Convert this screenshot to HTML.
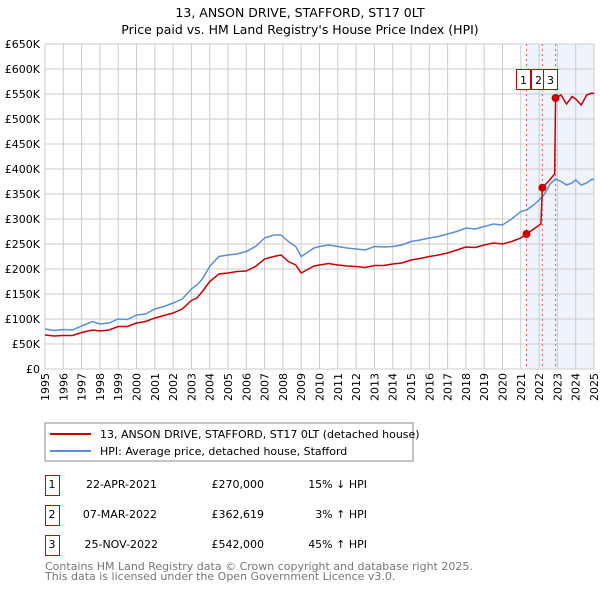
<!DOCTYPE html>
<html><head><meta charset="utf-8"><style>
body{margin:0;width:600px;height:590px;background:#fff;font-family:"Liberation Sans","DejaVu Sans",sans-serif;overflow:hidden}
svg text{font-family:"DejaVu Sans","Liberation Sans",sans-serif}
</style></head><body>
<svg id="chart" width="600" height="590">
<text x="300" y="17" text-anchor="middle" font-size="12.5">13, ANSON DRIVE, STAFFORD, ST17 0LT</text>
<text x="300" y="34" text-anchor="middle" font-size="12.5">Price paid vs. HM Land Registry's House Price Index (HPI)</text>
<g id="grid"></g><g id="series"></g><g id="axes"></g>
<rect x="45" y="423" width="368" height="38" fill="none" stroke="#888"/>
<line x1="50" y1="434" x2="91" y2="434" stroke="#cc0000" stroke-width="2"/>
<text x="100" y="438" font-size="11">13, ANSON DRIVE, STAFFORD, ST17 0LT (detached house)</text>
<line x1="50" y1="451" x2="91" y2="451" stroke="#5b8fd6" stroke-width="2"/>
<text x="100" y="455" font-size="11">HPI: Average price, detached house, Stafford</text>
<g font-size="11">
<rect x="45.5" y="475.5" width="14" height="20" fill="none" stroke="#cc0000"/><text x="52" y="488" text-anchor="middle">1</text>
<text x="157" y="488" text-anchor="end">22-APR-2021</text><text x="264" y="488" text-anchor="end">£270,000</text><text x="367" y="488" text-anchor="end">15% ↓ HPI</text>
<rect x="45.5" y="505.5" width="14" height="20" fill="none" stroke="#cc0000"/><text x="52" y="518" text-anchor="middle">2</text>
<text x="157" y="518" text-anchor="end">07-MAR-2022</text><text x="264" y="518" text-anchor="end">£362,619</text><text x="367" y="518" text-anchor="end">3% ↑ HPI</text>
<rect x="45.5" y="535.5" width="14" height="20" fill="none" stroke="#cc0000"/><text x="52" y="548" text-anchor="middle">3</text>
<text x="158" y="548" text-anchor="end">25-NOV-2022</text><text x="264" y="548" text-anchor="end">£542,000</text><text x="367" y="548" text-anchor="end">45% ↑ HPI</text>
</g>
<text x="45" y="570" font-size="11" fill="#777">Contains HM Land Registry data © Crown copyright and database right 2025.</text>
<text x="45" y="580" font-size="11" fill="#777">This data is licensed under the Open Government Licence v3.0.</text>
</svg>
<script>
const years=[1995,1996,1997,1998,1999,2000,2001,2002,2003,2004,2005,2006,2007,2008,2009,2010,2011,2012,2013,2014,2015,2016,2017,2018,2019,2020,2021,2022,2023,2024,2025];
const yTicks=[0,50000,100000,150000,200000,250000,300000,350000,400000,450000,500000,550000,600000,650000];
const yTickLabels=["£0","£50K","£100K","£150K","£200K","£250K","£300K","£350K","£400K","£450K","£500K","£550K","£600K","£650K"];
const hpiT=[1995,1995.5,1996,1996.5,1997,1997.6,1998,1998.5,1999,1999.5,2000,2000.5,2001,2001.5,2002,2002.5,2003,2003.3,2003.6,2004,2004.5,2005,2005.5,2006,2006.5,2007,2007.5,2007.9,2008.3,2008.7,2009,2009.3,2009.7,2010,2010.5,2011,2011.5,2012,2012.5,2013,2013.5,2014,2014.5,2015,2015.5,2016,2016.5,2017,2017.5,2018,2018.5,2019,2019.5,2020,2020.5,2021,2021.3,2021.7,2022,2022.3,2022.6,2022.9,2023.2,2023.5,2023.8,2024,2024.3,2024.6,2024.9,2025];
const hpiV=[80000,77000,79000,78000,86000,95000,90000,92000,100000,99000,108000,110000,120000,125000,132000,140000,160000,168000,180000,205000,225000,228000,230000,235000,245000,262000,268000,268000,255000,245000,225000,232000,242000,245000,248000,245000,242000,240000,238000,245000,244000,245000,248000,255000,258000,262000,265000,270000,275000,282000,280000,285000,290000,288000,300000,315000,318000,328000,338000,350000,370000,380000,375000,368000,372000,378000,368000,372000,380000,378000];
const propT=[1995,1995.5,1996,1996.5,1997,1997.6,1998,1998.5,1999,1999.5,2000,2000.5,2001,2001.5,2002,2002.5,2003,2003.3,2003.6,2004,2004.5,2005,2005.5,2006,2006.5,2007,2007.5,2007.9,2008.3,2008.7,2009,2009.3,2009.7,2010,2010.5,2011,2011.5,2012,2012.5,2013,2013.5,2014,2014.5,2015,2015.5,2016,2016.5,2017,2017.5,2018,2018.5,2019,2019.5,2020,2020.5,2021,2021.3,2021.7,2022.1,2022.18,2022.5,2022.85,2022.9,2023.2,2023.5,2023.8,2024,2024.3,2024.6,2024.9,2025];
const propV=[68000,66000,67000,67000,73000,78000,76000,78000,85000,85000,92000,95000,102000,107000,112000,120000,137000,142000,155000,175000,190000,192000,195000,196000,205000,220000,225000,228000,215000,208000,192000,198000,206000,208000,211000,208000,206000,205000,203000,207000,207000,210000,212000,218000,221000,225000,228000,232000,238000,244000,243000,248000,252000,250000,255000,262000,270000,280000,290000,362619,375000,390000,542000,548000,530000,545000,540000,528000,548000,552000,550000];
const saleT=[2021.31,2022.18,2022.9];
const saleV=[270000,362619,542000];
const saleLabels=["1","2","3"];
const X0=45,X1=594,Y0=369,Y1=44;
const x=t=>X0+(t-1995)/(2025-1995)*(X1-X0);
const y=v=>Y0-v/650000*(Y0-Y1);
const NS="http://www.w3.org/2000/svg";
function mk(tag,attrs,parent){const e=document.createElementNS(NS,tag);for(const k in attrs)e.setAttribute(k,attrs[k]);parent.appendChild(e);return e;}
const grid=document.getElementById('grid'),ser=document.getElementById('series'),ax=document.getElementById('axes');
const shade=mk('rect',{x:x(saleT[0]),y:Y1,width:X1-x(saleT[0]),height:Y0-Y1,fill:'#eef3fc'},grid);


years.forEach(t=>{const l=mk('line',{x1:x(t),x2:x(t),y1:Y1,y2:Y0,stroke:'#ccc'},grid);


const tx=mk('text',{x:0,y:0,'font-size':11,'text-anchor':'end',transform:`translate(${x(t)+4},${Y0+4}) rotate(-90)`},ax);tx.textContent=t;

});
yTicks.forEach((v,i)=>{const l=mk('line',{x1:X0,x2:X1,y1:y(v),y2:y(v),stroke:'#ccc'},grid);


const tx=mk('text',{x:40,y:y(v)+4,'font-size':11,'text-anchor':'end'},ax);tx.textContent=yTickLabels[i];

});
saleT.forEach((t,i)=>{const l=mk('line',{x1:x(t),x2:x(t),y1:Y1,y2:Y0,stroke:'#e06060','stroke-dasharray':'2,3'},grid);

});
const hp=mk('polyline',{points:hpiT.map((t,i)=>x(t)+','+y(hpiV[i])).join(' '),fill:'none',stroke:'#5b8fd6','stroke-width':1.5},ser);


const pp=mk('polyline',{points:propT.map((t,i)=>x(t)+','+y(propV[i])).join(' '),fill:'none',stroke:'#cc0000','stroke-width':1.5},ser);


const bx=[516,531,543];
saleT.forEach((t,i)=>{const c=mk('circle',{cx:x(t),cy:y(saleV[i]),r:4,fill:'#cc0000'},ser);


const r=mk('rect',{x:bx[i]+0.5,y:69.5,width:14,height:20,fill:'#fff',stroke:'#cc0000'},ser);


const tx=mk('text',{x:bx[i]+7.5,y:84,'font-size':11,'text-anchor':'middle'},ser);tx.textContent=saleLabels[i];

});
</script>
</body></html>
